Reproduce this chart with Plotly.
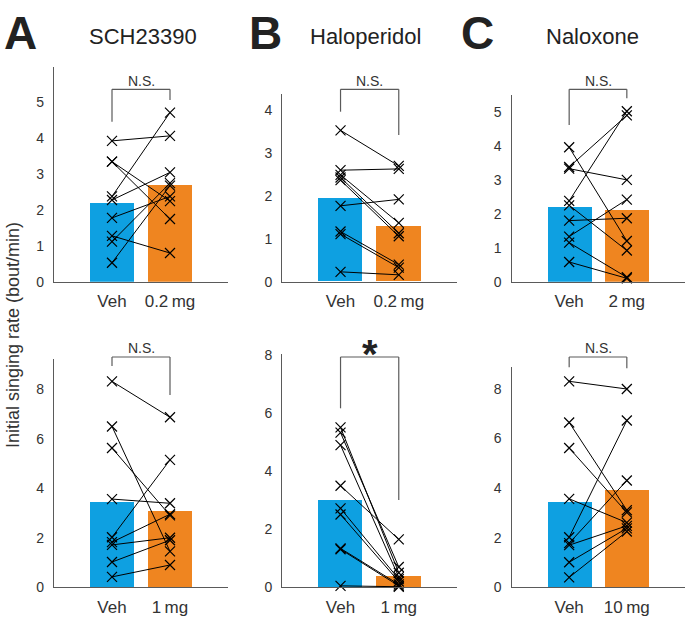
import plotly.graph_objects as go

# ---------------- data ----------------
categories = ["Veh", "drug"]
dose_labels = ["0.2\u2009mg", "0.2\u2009mg", "2\u2009mg", "1\u2009mg", "1\u2009mg", "10\u2009mg"]
drug_names = ["SCH23390", "Haloperidol", "Naloxone"]
panel_letters = ["A", "B", "C"]

# top row
sch02_veh = [3.93, 3.35, 3.35, 2.38, 2.28, 1.78, 1.28, 1.12, 0.53]
sch02_drug = [4.07, 1.75, 2.25, 4.72, 3.05, 2.38, 0.80, 2.75, 2.68]
hal02_veh = [3.53, 2.60, 2.49, 2.43, 2.37, 1.77, 1.17, 1.11, 0.23]
hal02_drug = [2.70, 2.63, 1.37, 1.13, 1.06, 1.92, 0.40, 0.33, 0.16]
nal2_veh = [3.96, 3.38, 3.33, 2.38, 2.25, 1.80, 1.33, 1.15, 0.58]
nal2_drug = [1.20, 4.90, 3.00, 5.02, 0.92, 1.87, 2.42, 0.13, 0.10]
# bottom row
sch1_veh = [8.31, 6.49, 5.62, 3.56, 2.02, 1.82, 1.71, 1.02, 0.42]
sch1_drug = [6.86, 1.45, 2.90, 3.39, 5.14, 2.95, 2.00, 1.90, 0.90]
hal1_veh = [5.51, 5.33, 4.90, 3.50, 2.72, 2.51, 1.34, 1.31, 0.05]
hal1_drug = [0.50, 0.70, 0.35, 1.65, 0.28, 0.20, 0.10, 0.05, 0.02]
nal10_veh = [8.31, 6.65, 5.62, 3.57, 2.02, 1.78, 1.70, 1.01, 0.40]
nal10_drug = [8.00, 3.11, 3.02, 2.61, 6.73, 4.31, 2.48, 2.38, 2.25]

# group means (bar heights)
bar_means = [[2.21, 2.70], [1.94, 1.30], [2.19, 2.10],
             [3.43, 3.06], [3.01, 0.40], [3.46, 3.93]]
significance = ["N.S.", "N.S.", "N.S.", "N.S.", "*", "N.S."]

y_tickvals = [[0, 1, 2, 3, 4, 5], [0, 1, 2, 3, 4], [0, 1, 2, 3, 4, 5],
              [0, 2, 4, 6, 8], [0, 2, 4, 6, 8], [0, 2, 4, 6, 8]]
y_tops = [6.0, 4.37, 5.5, 9.2, 8.04, 8.9]

pairs = [(sch02_veh, sch02_drug), (hal02_veh, hal02_drug), (nal2_veh, nal2_drug),
         (sch1_veh, sch1_drug), (hal1_veh, hal1_drug), (nal10_veh, nal10_drug)]

# ---------------- layout geometry (pixels) ----------------
W, H = 685, 617
x_dom_px = [(54, 228), (282.3, 457), (511.5, 684.5)]
row_base_px = [281.7, 587.3]
top_px = [[66.7, 94.3, 95.0], [359.3, 354.0, 366.7]]
bracket_px = [89.3, 357.0]
ns_px = [81.0, 348.0]
# leg bottoms of bracket (pixels): (left, right)
legs_px = [(121.7, 100.0), (111.7, 135.0), (125.0, 98.3),
           (366.0, 395.0), (408.3, 500.0), (367.3, 368.3)]

BLUE = "#0EA0E1"
ORANGE = "#EF8520"
AXIS = "#5a5a5a"
SANS = "Liberation Sans, Arial, Helvetica"


def px_x(p):
    return p / W


def px_y(p):
    return (H - p) / H


fig = go.Figure()
shapes = []
annotations = []

for i in range(6):
    row, col = divmod(i, 3)
    n = i + 1
    xa = "x" if n == 1 else f"x{n}"
    ya = "y" if n == 1 else f"y{n}"
    veh, drug = pairs[i]

    fig.add_trace(go.Bar(x=[1, 2], y=bar_means[i], width=0.76,
                         marker=dict(color=[BLUE, ORANGE], line=dict(width=0)),
                         xaxis=xa, yaxis=ya, showlegend=False))
    xs, ys = [], []
    for a, b in zip(veh, drug):
        xs += [1, 2, None]
        ys += [a, b, None]
    fig.add_trace(go.Scatter(x=xs, y=ys, mode="lines+markers",
                             line=dict(color="black", width=1),
                             marker=dict(symbol="x-thin", size=10,
                                         line=dict(color="black", width=1.2)),
                             xaxis=xa, yaxis=ya, showlegend=False, cliponaxis=False))

    x0, x1 = x_dom_px[col]
    base = row_base_px[row]
    top = top_px[row][col]
    axkey = "xaxis" if n == 1 else f"xaxis{n}"
    aykey = "yaxis" if n == 1 else f"yaxis{n}"
    fig.update_layout(**{
        axkey: dict(domain=[px_x(x0), px_x(x1)], range=[0, 3], anchor=ya,
                    tickvals=[1, 2], ticktext=["Veh", dose_labels[i]],
                    showline=True, linecolor=AXIS, linewidth=1.2, ticks="",
                    showgrid=False, zeroline=False, fixedrange=True, automargin=False,
                    ticklabelstandoff=4,
                    tickfont=dict(family=SANS, size=17, color="#333")),
        aykey: dict(domain=[px_y(base), px_y(top)], range=[0, y_tops[i]], anchor=xa,
                    tickvals=y_tickvals[i], showline=True, linecolor=AXIS,
                    linewidth=1.2, ticks="", showgrid=False, zeroline=False,
                    ticklabelstandoff=6, automargin=False, fixedrange=True,
                    tickfont=dict(family=SANS, size=14, color="#333")),
    })

    # significance bracket (domain of x: categories 1 and 2 -> 1/3, 2/3)
    xd = "x domain" if n == 1 else f"x{n} domain"
    lb, rb = legs_px[i]
    by = bracket_px[row]
    for (xx, yy0, yy1) in [(1 / 3, px_y(by), px_y(lb)), (2 / 3, px_y(by), px_y(rb))]:
        shapes.append(dict(type="line", xref=xd, yref="paper", x0=xx, x1=xx,
                           y0=yy0, y1=yy1, line=dict(color=AXIS, width=1.2)))
    shapes.append(dict(type="line", xref=xd, yref="paper", x0=1 / 3, x1=2 / 3,
                       y0=px_y(by), y1=px_y(by), line=dict(color=AXIS, width=1.2)))
    if significance[i] == "*":
        annotations.append(dict(text="<b>*</b>", xref=xd, yref="paper", x=0.5,
                                y=px_y(ns_px[row] + 6), showarrow=False,
                                font=dict(family=SANS, size=40, color="#222"),
                                xanchor="center", yanchor="middle"))
    else:
        annotations.append(dict(text=significance[i], xref=xd, yref="paper", x=0.5,
                                y=px_y(ns_px[row]), showarrow=False,
                                font=dict(family=SANS, size=14, color="#333"),
                                xanchor="center", yanchor="middle"))

# panel letters and drug names
letter_x = [20, 265, 478]
name_x = [143, 365, 592]
for k in range(3):
    annotations.append(dict(text=f"<b>{panel_letters[k]}</b>", xref="paper", yref="paper",
                            x=px_x(letter_x[k]), y=px_y(33), showarrow=False,
                            font=dict(family=SANS, size=46, color="#222"),
                            xanchor="center", yanchor="middle"))
    annotations.append(dict(text=drug_names[k], xref="paper", yref="paper",
                            x=px_x(name_x[k]), y=px_y(36), showarrow=False,
                            font=dict(family=SANS, size=22, color="#222"),
                            xanchor="center", yanchor="middle"))

annotations.append(dict(text="Initial singing rate (bout/min)", xref="paper", yref="paper",
                        x=px_x(13), y=px_y(335), showarrow=False, textangle=-90,
                        font=dict(family=SANS, size=18, color="#333"),
                        xanchor="center", yanchor="middle"))

fig.update_layout(width=W, height=H, margin=dict(l=0, r=0, t=0, b=0),
                  paper_bgcolor="white", plot_bgcolor="white",
                  shapes=shapes, annotations=annotations, bargap=0)

fig.write_html("out.html", config={"displayModeBar": False},
               post_script="document.body.style.margin='0';document.body.style.overflow='hidden';")
